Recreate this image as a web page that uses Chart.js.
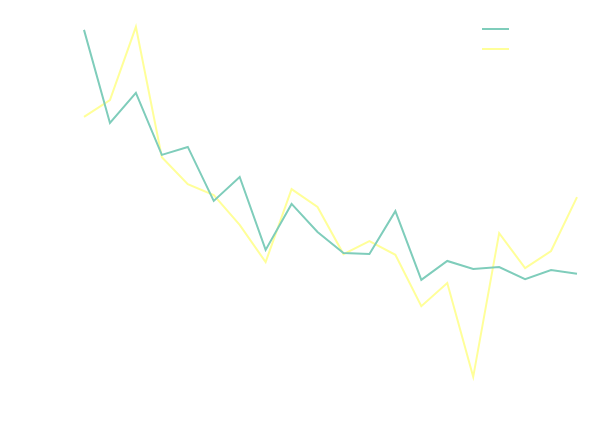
<!DOCTYPE html>
<html>
<head>
<meta charset="utf-8">
<script src="https://cdn.jsdelivr.net/npm/chart.js@4/dist/chart.umd.min.js"></script>
<style>
  html, body { margin: 0; padding: 0; background: #fff; }
  #wrap { position: relative; width: 611px; height: 428px; }
  .legend { position: absolute; left: 482px; font: 12px "DejaVu Sans", sans-serif; color: #fff; }
  .legend span.sw { display: inline-block; width: 27px; height: 2px; vertical-align: middle; margin-right: 5px; }
</style>
</head>
<body>
<div id="wrap">
  <canvas id="chart" width="611" height="428"></canvas>
  <div class="legend" style="top:21px"><span class="sw" style="background:#7fcdbb"></span>Series A</div>
  <div class="legend" style="top:41px"><span class="sw" style="background:#ffff99"></span>Series B</div>
</div>
<script>
// 20 categories, values (hidden axis 0..100)
const labels = ['1','2','3','4','5','6','7','8','9','10','11','12','13','14','15','16','17','18','19','20'];
const seriesA = [97.4, 72.9, 80.8, 64.5, 66.6, 52.4, 58.7, 39.5, 51.6, 44.2, 38.7, 38.4, 49.7, 31.6, 36.6, 34.5, 35.0, 31.8, 34.2, 33.2];
const seriesB = [74.5, 78.9, 98.2, 63.9, 56.8, 53.9, 46.1, 36.3, 55.5, 50.8, 38.4, 41.8, 38.2, 24.7, 30.8, 6.1, 43.9, 34.7, 39.2, 53.4];

new Chart(document.getElementById('chart'), {
    type: 'line',
    data: {
        labels: labels,
        datasets: [
            { label: 'Series A', data: seriesA, borderColor: '#7fcdbb', borderWidth: 2, pointRadius: 0, tension: 0, fill: false },
            { label: 'Series B', data: seriesB, borderColor: '#ffff99', borderWidth: 2, pointRadius: 0, tension: 0, fill: false }
        ]
    },
    options: {
        responsive: false,
        animation: false,
        layout: { padding: { left: 84, right: 34, top: 20, bottom: 28 } },
        scales: {
            x: { display: false, offset: false },
            y: { display: false, min: 0, max: 100 }
        },
        plugins: {
            legend: { display: false },
            tooltip: { enabled: false }
        }
    }
});
</script>
</body>
</html>
